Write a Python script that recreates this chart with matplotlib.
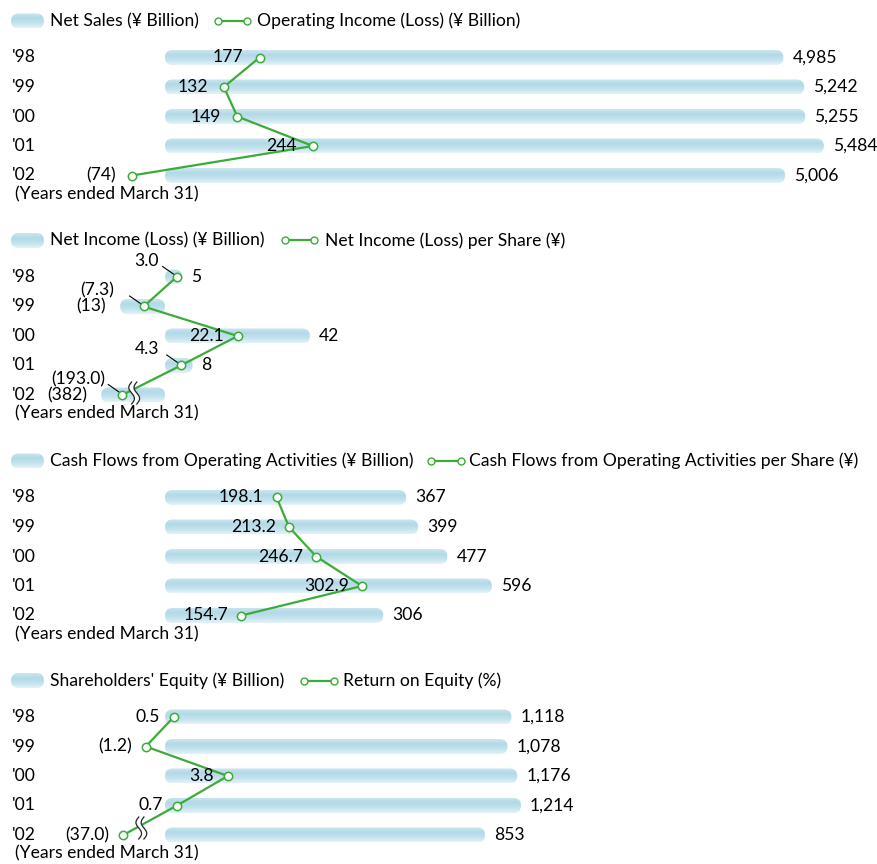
import matplotlib
matplotlib.use("Agg")
import matplotlib.pyplot as plt
import matplotlib.transforms as mtransforms
from matplotlib.colors import LinearSegmentedColormap
from matplotlib.patches import FancyBboxPatch, Polygon
import numpy as np

plt.rcParams["font.family"] = ["Lato", "DejaVu Sans"]

# ---- data ----
years = ["'98", "'99", "'00", "'01", "'02"]

net_sales = [4985, 5242, 5255, 5484, 5006]
operating_income = [177, 132, 149, 244, -74]

net_income = [5, -13, 42, 8, -382]
net_income_per_share = [3.0, -7.3, 22.1, 4.3, -193.0]

cash_flows = [367, 399, 477, 596, 306]
cash_flows_per_share = [198.1, 213.2, 246.7, 302.9, 154.7]

equity = [1118, 1078, 1176, 1214, 853]
roe = [0.5, -1.2, 3.8, 0.7, -37.0]

# ---- layout / style (pixels) ----
W, H = 877, 864
ROW = 29.5
BAR_LEFT = 165
BAR_H = 15
FS = 12.6
GREEN = "#3cab3a"
bar_cmap = LinearSegmentedColormap.from_list("bar", ["#cbe6ef", "#b3d9e7", "#c3e2ed", "#e4f2f7"])

panels = [
    dict(row0=57.5, bars=net_sales, line=operating_income,
         bar_map=(379.1, 0.0811), line_map=(118.8, 0.7954),
         bar_min=None, line_min=16.6, brk=None, bar_dec=0, line_dec=0,
         leg1="Net Sales (¥ Billion)", leg2="Operating Income (Loss) (¥ Billion)",
         leg_x=(218, 247, 257), leader=[False] * 5, lab_dx=[-16] * 5),
    dict(row0=277, bars=net_income, line=net_income_per_share,
         bar_map=(165, 3.45), line_map=(167, 3.2),
         bar_min=-18.5, line_min=-14.0, brk=(12, -2), bar_dec=0, line_dec=1,
         leg1="Net Income (Loss) (¥ Billion)", leg2="Net Income (Loss) per Share (¥)",
         leg_x=(285, 314, 325), leader=[True, True, False, True, True],
         lab_dx=[-18, -30, -14, -21, -17]),
    dict(row0=497.5, bars=cash_flows, line=cash_flows_per_share,
         bar_map=(268.7, 0.3745), line_map=(115.5, 0.8136),
         bar_min=None, line_min=None, brk=None, bar_dec=0, line_dec=1,
         leg1="Cash Flows from Operating Activities (¥ Billion)",
         leg2="Cash Flows from Operating Activities per Share (¥)",
         leg_x=(431, 461, 469), leader=[False] * 5, lab_dx=[-13] * 5),
    dict(row0=717, bars=equity, line=roe,
         bar_map=(400.0, 0.0997), line_map=(165.5, 16.4),
         bar_min=None, line_min=-2.57, brk=(18, -7), bar_dec=0, line_dec=1,
         leg1="Shareholders' Equity (¥ Billion)", leg2="Return on Equity (%)",
         leg_x=(304, 334, 343), leader=[False] * 5, lab_dx=[-14] * 5),
]


def fmt(v, dec):
    s = f"{abs(v):,.{dec}f}"
    return f"({s})" if v < 0 else s


def px_trans(ax, x, y):
    # pixel offsets (y pointing down) around a data point
    return mtransforms.Affine2D().scale(1, -1) + mtransforms.ScaledTranslation(x, y, ax.transData)


def rounded_bar(ax, u0, u1, y, k):
    lo, hi = min(u0, u1), max(u0, u1)
    h = BAR_H / ROW
    r = (BAR_H / 2) / k
    patch = FancyBboxPatch((lo, y - h / 2), hi - lo, h,
                           boxstyle=f"round,pad=0,rounding_size={r}",
                           mutation_aspect=k / ROW, fc="none", ec="none")
    ax.add_patch(patch)
    grad = np.linspace(0, 1, 40).reshape(-1, 1)
    im = ax.imshow(grad, cmap=bar_cmap, extent=(lo, hi, y + h / 2, y - h / 2),
                   aspect="auto", interpolation="bilinear", zorder=1)
    im.set_clip_path(patch)


def draw_break(ax, x, y, dx, dy):
    t = np.linspace(-11, 11, 40)
    wave = 2.8 * np.sin(np.pi * t / 11)
    left = np.column_stack([wave - 2.6 + dx, t + dy])
    right = np.column_stack([wave + 2.6 + dx, t + dy])
    tr = px_trans(ax, x, y)
    ax.add_patch(Polygon(np.vstack([left, right[::-1]]), closed=True, fc="white",
                         ec="none", transform=tr, zorder=6, clip_on=False))
    for c in (left, right):
        ax.plot(c[:, 0], c[:, 1], color="#222222", lw=0.9, transform=tr, zorder=7, clip_on=False)


fig = plt.figure(figsize=(W / 100, H / 100), dpi=100)

for p in panels:
    top = p["row0"] - 50
    bottom = p["row0"] + 4 * ROW + 35
    ax = fig.add_axes([0, 1 - bottom / H, 1, (bottom - top) / H])
    lx = ax.twiny()
    a, k = p["bar_map"]
    la, lk = p["line_map"]
    ax.set_xlim(-a / k, (W - a) / k)
    lx.set_xlim(-la / lk, (W - la) / lk)
    ax.set_ylim(4 + 35 / ROW, -50 / ROW)
    for a_ in (ax, lx):
        a_.axis("off")

    rows = np.arange(len(years))
    base = (BAR_LEFT - a) / k if p["bar_min"] is None else 0.0

    # bars
    for i, v in enumerate(p["bars"]):
        shown = v if p["bar_min"] is None else max(v, p["bar_min"])
        rounded_bar(ax, base, shown, rows[i], k)
        if v >= 0:
            ax.annotate(fmt(v, p["bar_dec"]), (shown, rows[i]), xytext=(9, 0),
                        textcoords="offset pixels", ha="left", va="center", fontsize=FS)
        else:
            ax.annotate(fmt(v, p["bar_dec"]), (shown, rows[i]), xytext=(-14, 0),
                        textcoords="offset pixels", ha="right", va="center", fontsize=FS)

    # line
    lvals = [v if p["line_min"] is None else max(v, p["line_min"]) for v in p["line"]]
    lx.plot(lvals, rows, color=GREEN, lw=1.6, marker="o", ms=6, mfc="white",
            mec=GREEN, mew=1.1, zorder=5, clip_on=False)
    for i, v in enumerate(p["line"]):
        if p["leader"][i]:
            lx.plot([-14, -2.5], [-10.5, -2.5], color="black", lw=0.8,
                    transform=px_trans(lx, lvals[i], rows[i]), zorder=4)
            lx.annotate(fmt(v, p["line_dec"]), (lvals[i], rows[i]),
                        xytext=(p["lab_dx"][i], 16), textcoords="offset pixels",
                        ha="right", va="center", fontsize=FS, zorder=8)
        else:
            lx.annotate(fmt(v, p["line_dec"]), (lvals[i], rows[i]),
                        xytext=(p["lab_dx"][i], 0), textcoords="offset pixels",
                        ha="right", va="center", fontsize=FS, zorder=8)
    if p["brk"] is not None:
        draw_break(lx, lvals[-1], rows[-1], *p["brk"])

    # year labels and notes (x in axes fraction == figure pixel / W)
    yt = ax.get_yaxis_transform()
    for i, yr in enumerate(years):
        ax.text(12 / W, rows[i], yr, transform=yt, ha="left", va="center", fontsize=FS)
    ax.text(15 / W, 4 + 18.5 / ROW, "(Years ended March 31)", transform=yt,
            ha="left", va="center", fontsize=FS)

    # legend
    ly = -36.5 / ROW
    rounded_bar(ax, (11 - a) / k, (44 - a) / k, ly, k)
    ax.text(50 / W, ly, p["leg1"], transform=yt, ha="left", va="center", fontsize=FS)
    x1, x2, xt = p["leg_x"]
    ax.plot([x1 / W, x2 / W], [ly, ly], transform=yt, color=GREEN, lw=1.6,
            marker="o", ms=5, mfc="white", mec=GREEN, mew=1.0, zorder=5)
    ax.text(xt / W, ly, p["leg2"], transform=yt, ha="left", va="center", fontsize=FS)

fig.savefig("out.png", dpi=100)
